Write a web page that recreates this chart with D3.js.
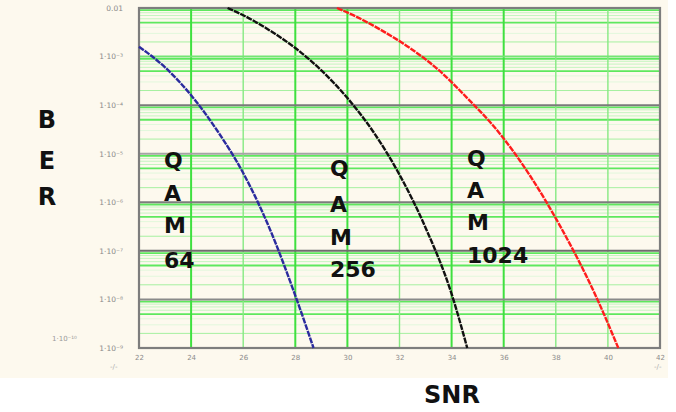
<!DOCTYPE html>
<html>
<head>
<meta charset="utf-8">
<script src="https://cdn.jsdelivr.net/npm/d3@7"></script>
<style>
  html, body { margin: 0; padding: 0; background: #ffffff; }
  svg { display: block; }
</style>
</head>
<body>
<svg id="chart" width="676" height="412"></svg>
<script>
// ---- data ----
const xTicks = [22, 24, 26, 28, 30, 32, 34, 36, 38, 40, 42];
const yTicks = [1e-2, 1e-3, 1e-4, 1e-5, 1e-6, 1e-7, 1e-8, 1e-9];
const yTickLabels = ["0.01", "1·10⁻³", "1·10⁻⁴", "1·10⁻⁵", "1·10⁻⁶", "1·10⁻⁷", "1·10⁻⁸", "1·10⁻⁹"];

const qam64Snr = [22, 23, 24, 25, 26, 27, 28, 28.7];
const qam64Ber = [1.6e-3, 6e-4, 1.6e-4, 3e-5, 4e-6, 3e-7, 1.2e-8, 1e-9];

const qam256Snr = [25.4, 26, 27, 28, 29, 30, 31, 32, 33, 34, 34.6];
const qam256Ber = [1e-2, 7.1e-3, 3.5e-3, 1.5e-3, 5.2e-4, 1.4e-4, 2.8e-5, 3.7e-6, 3.0e-7, 1.3e-8, 1e-9];

const qam1024Snr = [29.6, 30.2, 31.3, 32.4, 33.5, 34.6, 35.8, 37.0, 38.2, 39.5, 40.4];
const qam1024Ber = [1e-2, 7.2e-3, 3.5e-3, 1.5e-3, 5.3e-4, 1.4e-4, 2.8e-5, 3.6e-6, 3.0e-7, 1.3e-8, 1e-9];

const seriesNames = ["QAM 64", "QAM 256", "QAM 1024"];
const seriesColors = ["#2b2b9e", "#111111", "#ff1d1d"];

// ---- layout ----
const svg = d3.select("#chart");
const L = 139, R = 660, T = 8, B = 348;
const cream = "#fdf9ee";

svg.append("rect").attr("x", 0).attr("y", 0).attr("width", 668).attr("height", 378).attr("fill", cream);

const x = d3.scaleLinear().domain([22, 42]).range([L, R]);
const y = d3.scaleLog().domain([1e-9, 1e-2]).range([B, T]);

const g = svg.append("g");

// minor horizontal grid lines (2..9 within each decade)
const minor = [];
for (let e = -9; e < -2; e++) {
  for (let k = 2; k <= 9; k++) minor.push({v: k * Math.pow(10, e), k});
}
const minorColor = k => (k === 9 || k === 5) ? "#5ee85e" : (k >= 6 ? "#c4f5bf" : (k === 2 ? "#a6f0a0" : "#e2f8dc"));
g.selectAll("line.minor").data(minor).enter().append("line")
  .attr("x1", L).attr("x2", R)
  .attr("y1", d => y(d.v)).attr("y2", d => y(d.v))
  .attr("stroke", d => minorColor(d.k))
  .attr("stroke-width", d => (d.k === 9 || d.k === 5) ? 1.8 : 1);

// vertical grid lines
const brightX = new Set([24, 28, 30, 34, 36]);
g.selectAll("line.vx").data(xTicks.slice(1, -1)).enter().append("line")
  .attr("x1", d => x(d)).attr("x2", d => x(d))
  .attr("y1", T).attr("y2", B)
  .attr("stroke", d => brightX.has(d) ? "#3fe03f" : "#86e982")
  .attr("stroke-width", d => brightX.has(d) ? 2 : 1.4);

// decade lines
const decColor = {"-3": "#74e474", "-4": "#7a7a7a", "-5": "#a5a5a5", "-6": "#7d7d7d", "-7": "#6e6e6e", "-8": "#8a8a8a"};
g.selectAll("line.dec").data(yTicks.slice(1, -1)).enter().append("line")
  .attr("x1", L).attr("x2", R)
  .attr("y1", d => y(d)).attr("y2", d => y(d))
  .attr("stroke", d => decColor[Math.round(Math.log10(d))])
  .attr("stroke-width", 2);

// frame
g.append("rect").attr("x", L).attr("y", T).attr("width", R - L).attr("height", B - T)
  .attr("fill", "none").attr("stroke", "#7d7d7d").attr("stroke-width", 2.2);

// axes tick labels (via d3 axes)
const xAxis = d3.axisBottom(x).tickValues(xTicks).tickSize(0).tickPadding(7);
const xa = svg.append("g").attr("transform", `translate(0,${B})`).call(xAxis);
xa.select(".domain").remove();
xa.selectAll("text").attr("font-family", "DejaVu Sans").attr("font-size", 7).attr("fill", "#8a8a8a");

const yAxis = d3.axisLeft(y).tickValues(yTicks).tickSize(0).tickPadding(16)
  .tickFormat((d, i) => yTickLabels[i]);
const ya = svg.append("g").attr("transform", `translate(${L},0)`).call(yAxis);
ya.select(".domain").remove();
ya.selectAll("text").attr("font-family", "DejaVu Sans").attr("font-size", 7.5).attr("fill", "#8a8a8a");

// faint leftover labels
svg.append("text").attr("x", 52).attr("y", 341).attr("font-family", "DejaVu Sans")
  .attr("font-size", 7).attr("fill", "#9a9a9a").text("1·10⁻¹⁰");
svg.append("text").attr("x", 110).attr("y", 369).attr("font-family", "DejaVu Sans")
  .attr("font-size", 7).attr("fill", "#aaaaaa").text("-/-");
svg.append("text").attr("x", 654).attr("y", 369).attr("font-family", "DejaVu Sans")
  .attr("font-size", 7).attr("fill", "#aaaaaa").text("-/-");

// curves
const series = [
  qam64Snr.map((s, i) => [s, qam64Ber[i]]),
  qam256Snr.map((s, i) => [s, qam256Ber[i]]),
  qam1024Snr.map((s, i) => [s, qam1024Ber[i]])
];
const line = d3.line().x(d => x(d[0])).y(d => y(d[1])).curve(d3.curveMonotoneX);
svg.append("g").selectAll("path").data(series).enter().append("path")
  .attr("d", line).attr("fill", "none")
  .attr("stroke", (d, i) => seriesColors[i])
  .attr("stroke-width", 2.4)
  .attr("stroke-dasharray", "6,1");

// QAM labels
const qamLabels = [
  {x: 164, lines: ["Q", "A", "M", "64"], ys: [168, 201, 233, 268]},
  {x: 330, lines: ["Q", "A", "M", "256"], ys: [176, 212, 245, 277]},
  {x: 467, lines: ["Q", "A", "M", "1024"], ys: [166, 198, 230, 263]}
];
qamLabels.forEach(l => {
  l.lines.forEach((t, i) => {
    svg.append("text").attr("x", l.x).attr("y", l.ys[i])
      .attr("font-family", "DejaVu Sans").attr("font-weight", "bold")
      .attr("font-size", 22).attr("fill", "#111").text(t);
  });
});

// axis titles
["B", "E", "R"].forEach((t, i) => {
  svg.append("text").attr("x", 47).attr("y", [128, 169, 205][i]).attr("text-anchor", "middle")
    .attr("font-family", "DejaVu Sans").attr("font-weight", "bold")
    .attr("font-size", 24).attr("fill", "#111").text(t);
});
svg.append("text").attr("x", 452).attr("y", 403).attr("text-anchor", "middle")
  .attr("font-family", "DejaVu Sans").attr("font-weight", "bold")
  .attr("font-size", 24).attr("fill", "#111").text("SNR");
</script>
</body>
</html>
